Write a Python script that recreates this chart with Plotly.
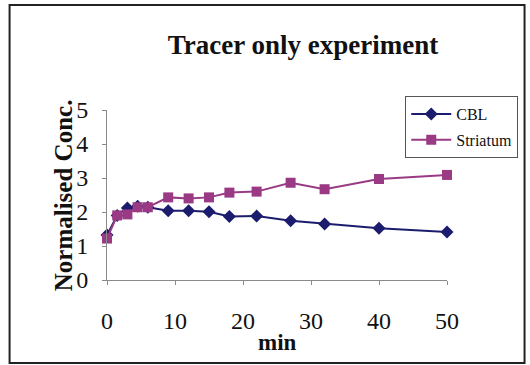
import plotly.graph_objects as go

# Sampling times (min) and normalised concentrations
time_min = [0, 1.5, 3, 4.5, 6, 9, 12, 15, 18, 22, 27, 32, 40, 50]
cbl = [1.32, 1.90, 2.12, 2.17, 2.14, 2.04, 2.04, 2.01, 1.87, 1.88, 1.74, 1.65, 1.52, 1.41]
striatum = [1.22, 1.90, 1.93, 2.14, 2.14, 2.43, 2.40, 2.43, 2.57, 2.60, 2.86, 2.67, 2.97, 3.09]

x_ticks = [0, 10, 20, 30, 40, 50]
y_ticks = [0, 1, 2, 3, 4, 5]

W, H = 530, 365
L, R, T, B = 107, 81, 110, 85
PW, PH = W - L - R, H - T - B

SERIF = "Liberation Serif, Times New Roman, serif"
NAVY = "#1c1c6e"
PLUM = "#9a3a84"


def px_x(p):
    return (p - L) / PW


def px_y(p):
    return (H - B - p) / PH


fig = go.Figure()
fig.add_trace(go.Scatter(
    x=time_min, y=cbl, name="CBL", mode="lines+markers",
    line=dict(color=NAVY, width=2),
    marker=dict(symbol="diamond", size=10, color=NAVY),
    cliponaxis=False, legendgroup="a",
))
fig.add_trace(go.Scatter(
    x=time_min, y=striatum, name="Striatum", mode="lines+markers",
    line=dict(color=PLUM, width=2),
    marker=dict(symbol="square", size=10, color=PLUM),
    cliponaxis=False, legendgroup="b",
))

axis_common = dict(
    showgrid=False, zeroline=False, showline=True, linecolor="#8a8a8a", linewidth=1,
    ticks="outside", ticklen=4, tickcolor="#8a8a8a",
    tickfont=dict(family=SERIF, size=24, color="#111"),
)

fig.update_layout(
    width=W, height=H,
    margin=dict(l=L, r=R, t=T, b=B),
    paper_bgcolor="white", plot_bgcolor="white",
    title=dict(
        text="<b>Tracer only experiment</b>",
        x=303 / W, xref="container", xanchor="center",
        y=1 - 45 / H, yref="container", yanchor="middle",
        font=dict(family=SERIF, size=27, color="#111"),
    ),
    xaxis=dict(range=[0, 50], tickvals=x_ticks, ticklabelstandoff=15, **axis_common),
    yaxis=dict(range=[0, 5], tickvals=y_ticks, ticklabelstandoff=9, **axis_common),
    legend=dict(
        x=px_x(407), y=px_y(96), xanchor="left", yanchor="top",
        bordercolor="#555", borderwidth=1, bgcolor="white",
        font=dict(family=SERIF, size=16, color="#111"),
        tracegroupgap=2, traceorder="grouped", itemwidth=40,
    ),
    showlegend=True,
    annotations=[
        dict(text="<b>Normalised Conc.</b>", textangle=-90,
             x=px_x(63), y=px_y(195), xref="paper", yref="paper",
             xanchor="center", yanchor="middle", showarrow=False,
             font=dict(family=SERIF, size=25, color="#111")),
        dict(text="<b>min</b>",
             x=px_x(278), y=px_y(342), xref="paper", yref="paper",
             xanchor="center", yanchor="middle", showarrow=False,
             font=dict(family=SERIF, size=23, color="#111")),
    ],
    shapes=[
        dict(type="rect", xref="paper", yref="paper",
             x0=px_x(9), x1=px_x(527), y0=px_y(363), y1=px_y(5),
             line=dict(color="#222", width=2)),
    ],
)

fig.write_html("out.html")
